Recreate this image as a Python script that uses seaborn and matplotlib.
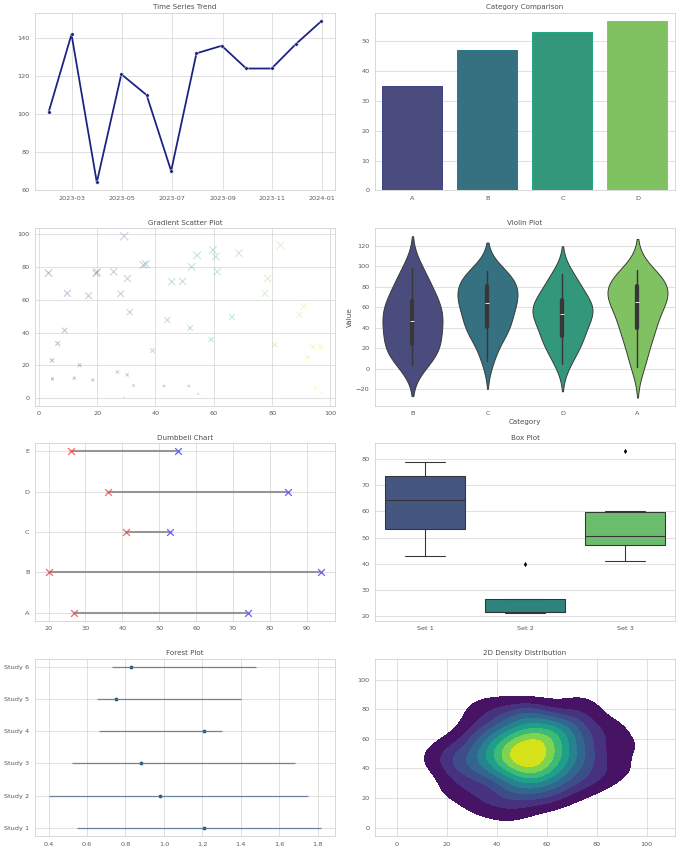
import numpy as np
import pandas as pd
import matplotlib
matplotlib.use("Agg")
import matplotlib.pyplot as plt
import seaborn as sns

# ---------------- data ----------------
ts_dates = ["2023-01-31", "2023-02-28", "2023-03-31", "2023-04-30", "2023-05-31", "2023-06-30",
            "2023-07-31", "2023-08-31", "2023-09-30", "2023-10-31", "2023-11-30", "2023-12-31"]
ts_values = [101, 142, 64, 121, 110, 70, 132, 136, 124, 124, 137, 149]

bar_categories = ["A", "B", "C", "D"]
bar_values = [35.0, 47.1, 53.3, 56.7]

scatter_x = [3.4, 9.8, 8.9, 6.5, 4.6, 4.7, 14.0, 12.2, 18.5, 17.1, 20.0, 19.7, 25.7, 28.1,
             29.3, 30.4, 31.2, 27.0, 30.3, 32.5, 29.2, 35.9, 36.7, 39.0, 44.1, 43.0, 45.6,
             49.3, 52.4, 54.3, 51.9, 51.4, 54.7, 59.7, 60.7, 61.2, 59.1, 66.2, 68.6, 77.6,
             78.5, 82.9, 80.9, 89.4, 90.8, 92.1, 93.9, 96.6, 94.8, 96.9]
scatter_y = [76.2, 63.8, 41.3, 33.3, 23.0, 11.8, 20.1, 12.2, 11.0, 62.4, 76.8, 76.0, 77.0, 63.6,
             98.6, 72.8, 52.4, 16.0, 14.2, 7.7, 0.4, 81.1, 81.7, 29.0, 47.6, 7.5, 70.9,
             71.1, 79.9, 87.0, 42.7, 7.5, 2.6, 90.2, 86.2, 77.0, 35.8, 49.4, 88.4, 63.8,
             72.8, 93.1, 32.5, 50.8, 55.9, 25.0, 31.3, 31.3, 6.5, 3.3]

violin_order = ["B", "C", "D", "A"]
violin_B = [4, 9, 14, 18, 22, 25, 30, 36, 42, 46, 48, 52, 57, 61, 66, 69, 75, 83, 91, 99]
violin_C = [8, 21, 33, 38, 40, 41, 48, 55, 60, 63, 65, 68, 72, 76, 80, 84, 86, 90, 93, 96]
violin_D = [5, 14, 22, 28, 30, 33, 40, 46, 51, 53, 55, 57, 60, 63, 66, 70, 75, 82, 88, 93]
violin_A = [2, 12, 24, 33, 38, 41, 48, 56, 61, 64, 66, 70, 74, 77, 80, 83, 85, 88, 92, 97]

dumbbell_labels = ["A", "B", "C", "D", "E"]
dumbbell_start = [27, 20, 41, 36, 26]
dumbbell_end = [74, 94, 53, 85, 55]

box_labels = ["Set 1", "Set 2", "Set 3"]
box_set1 = [43, 51, 60, 69, 75, 79]
box_set2 = [21.2, 21.4, 21.5, 26.5, 40]
box_set3 = [41, 47, 47, 50.5, 59.5, 60, 83]

forest_studies = ["Study 1", "Study 2", "Study 3", "Study 4", "Study 5", "Study 6"]
forest_est = [1.21, 0.98, 0.88, 1.21, 0.75, 0.83]
forest_low = [0.55, 0.40, 0.52, 0.66, 0.65, 0.73]
forest_high = [1.82, 1.75, 1.68, 1.30, 1.40, 1.48]

density_x = [38, 40, 41, 42, 43, 44, 45, 45, 46, 47,
             47, 48, 49, 49, 50, 50, 51, 51, 52, 52,
             52, 53, 53, 54, 54, 55, 55, 56, 56, 57,
             57, 58, 58, 59, 60, 60, 61, 62, 62, 63,
             64, 64, 65, 66, 67, 39, 41, 43, 44, 46,
             48, 50, 51, 53, 54, 55, 57, 59, 61, 63,
             65, 66, 42, 47, 52, 56, 60, 37, 23, 25,
             27, 33, 30, 31, 33, 34, 35, 36, 36, 69,
             70, 71, 72, 73, 45, 75, 76, 77, 78, 80,
             72, 26, 32, 68, 79, 17, 21, 86, 89, 92]
density_y = [56, 35, 65, 46, 51, 24, 70, 42, 60, 39,
             49, 75, 31, 54, 62, 45, 17, 59, 50, 67,
             41, 52, 29, 61, 47, 76, 37, 55, 44, 64,
             34, 57, 50, 71, 40, 22, 54, 66, 46, 36,
             60, 51, 30, 69, 42, 49, 81, 39, 56, 25,
             62, 45, 52, 32, 74, 41, 59, 47, 20, 65,
             50, 37, 55, 44, 79, 35, 61, 46, 27, 57,
             42, 80, 51, 31, 67, 40, 64, 15, 54, 49,
             70, 26, 59, 44, 10, 52, 75, 36, 62, 47,
             84, 41, 21, 60, 32, 50, 44, 66, 39, 55]

# ---------------- style ----------------
sns.set_theme(style="whitegrid")
plt.rcParams['font.family'] = ['DejaVu Sans']
plt.rcParams.update({"text.color": ".3", "axes.labelcolor": ".3",
                     "xtick.color": ".35", "ytick.color": ".35"})
DPI = 42.55
fig, axes = plt.subplots(4, 2, figsize=(680 / DPI, 852 / DPI), dpi=DPI)
fig.subplots_adjust(left=35 / 680, right=675 / 680, top=1 - 13 / 852, bottom=1 - 836 / 852,
                    wspace=0.133, hspace=0.213)


def fix_inverted(ax):
    if ax.yaxis_inverted():
        ax.invert_yaxis()


# 1 time series
ax = axes[0, 0]
ts_df = pd.DataFrame({"date": pd.to_datetime(ts_dates), "value": ts_values})
sns.lineplot(data=ts_df, x="date", y="value", marker="o", color="#1a237e", linewidth=3,
             markersize=6, ax=ax)
ax.set_title("Time Series Trend")
ax.set_xlabel("")
ax.set_ylabel("")

# 2 bar
ax = axes[0, 1]
sns.barplot(x=bar_categories, y=bar_values, hue=bar_categories, palette="viridis",
            legend=False, ax=ax)
for patch, col in zip(ax.patches, sns.color_palette("viridis", len(bar_categories))):
    patch.set_edgecolor(col)
    patch.set_linewidth(1.7)
ax.set_title("Category Comparison")

# 3 gradient scatter
ax = axes[1, 0]
sns.scatterplot(x=scatter_x, y=scatter_y, hue=scatter_x, palette="viridis",
                size=scatter_y, sizes=(min(scatter_y) * 2, max(scatter_y) * 2), marker="x",
                alpha=0.3, linewidth=1.6, legend=False, ax=ax)
ax.set_title("Gradient Scatter Plot")

# 4 violin
ax = axes[1, 1]
vals = violin_B + violin_C + violin_D + violin_A
cats = (["B"] * len(violin_B) + ["C"] * len(violin_C) + ["D"] * len(violin_D)
        + ["A"] * len(violin_A))
violin_df = pd.DataFrame({"Category": cats, "Value": vals})
sns.violinplot(data=violin_df, x="Category", y="Value", hue="Category", order=violin_order,
               hue_order=violin_order, palette="viridis", legend=False, linewidth=1.6, ax=ax)
ax.set_title("Violin Plot")

# 5 dumbbell
ax = axes[2, 0]
ax.hlines(dumbbell_labels, dumbbell_start, dumbbell_end, color="gray", linewidth=3.5,
          alpha=0.8)
sns.scatterplot(x=dumbbell_start, y=dumbbell_labels, color="red", marker="x", s=130,
                alpha=0.6, linewidth=2.2, ax=ax)
sns.scatterplot(x=dumbbell_end, y=dumbbell_labels, color="blue", marker="x", s=130,
                alpha=0.6, linewidth=2.2, ax=ax)
fix_inverted(ax)
ax.set_title("Dumbbell Chart")

# 6 box
ax = axes[2, 1]
bvals = box_set1 + box_set2 + box_set3
blabs = ([box_labels[0]] * len(box_set1) + [box_labels[1]] * len(box_set2)
         + [box_labels[2]] * len(box_set3))
box_df = pd.DataFrame({"Set": blabs, "Value": bvals})
sns.boxplot(data=box_df, x="Set", y="Value", hue="Set", palette="viridis", legend=False,
            linewidth=1.8,
            flierprops=dict(marker="d", markerfacecolor="black", markeredgecolor="black",
                            markersize=5), ax=ax)
ax.set_title("Box Plot")
ax.set_xlabel("")
ax.set_ylabel("")

# 7 forest
ax = axes[3, 0]
est = np.array(forest_est)
xerr = [est - np.array(forest_low), np.array(forest_high) - est]
ax.errorbar(est, forest_studies, xerr=xerr, fmt="none", ecolor="#4d6f90", elinewidth=2.2,
            alpha=0.8)
sns.scatterplot(x=forest_est, y=forest_studies, color="#1b4f72", s=45, ax=ax)
fix_inverted(ax)
ax.set_title("Forest Plot")

# 8 density
ax = axes[3, 1]
sns.kdeplot(x=density_x, y=density_y, fill=True, cmap="viridis", ax=ax)
ax.set_xlim(-8.7, 111.3)
ax.set_ylim(-5.7, 114.3)
ax.set_title("2D Density Distribution")

fig.savefig("out.png", dpi=DPI)
